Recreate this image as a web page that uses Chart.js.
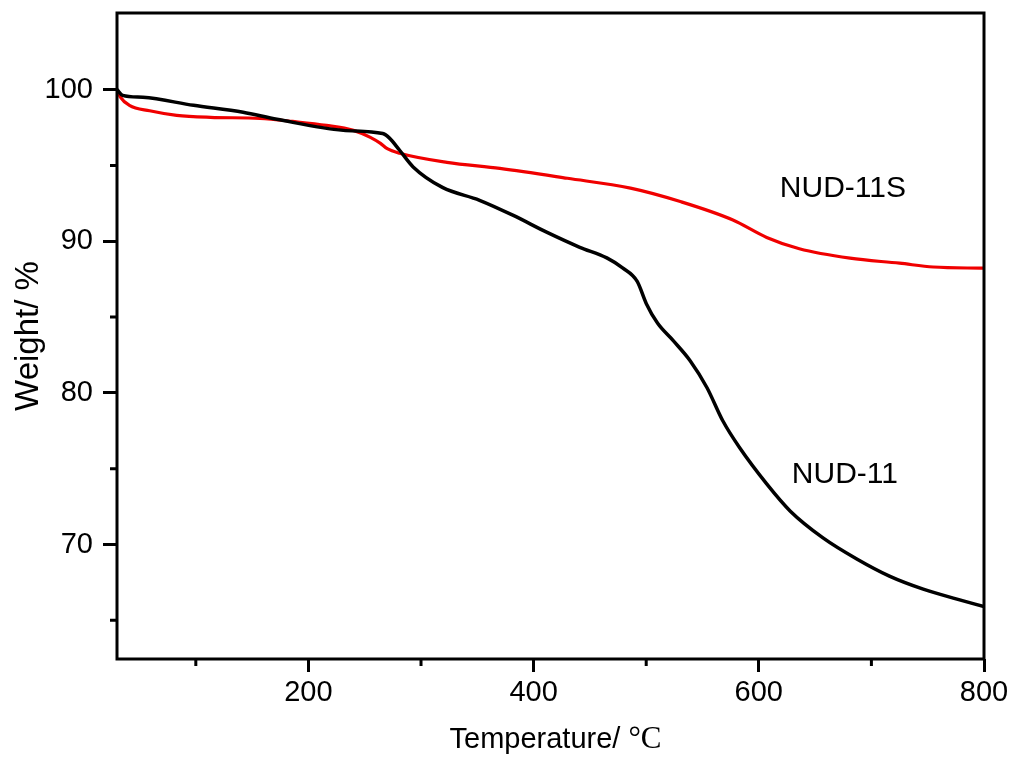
<!DOCTYPE html>
<html>
<head>
<meta charset="utf-8">
<script src="https://cdn.jsdelivr.net/npm/chart.js@4"></script>
<style>
  html, body { margin: 0; padding: 0; background: #ffffff; }
  #wrap { width: 1012px; height: 758px; }
</style>
</head>
<body>
<div id="wrap"><canvas id="tga" width="1012" height="758"></canvas></div>
<script>
// NUD-11 (black)
const tempNUD11 = [30, 35, 53, 98, 142, 172, 231, 266, 272, 281, 293, 319, 352, 382, 412, 441, 465, 479, 492, 500, 510, 524, 539, 554, 568, 583, 607, 628, 657, 687, 716, 746, 776, 800];
const weightNUD11 = [100, 99.62, 99.49, 98.96, 98.5, 98.04, 97.31, 97.1, 96.8, 96.0, 94.9, 93.55, 92.7, 91.7, 90.58, 89.6, 88.9, 88.24, 87.35, 85.9, 84.6, 83.44, 82.12, 80.34, 78.16, 76.38, 74.0, 72.2, 70.44, 69.05, 67.92, 67.06, 66.4, 65.9];

// NUD-11S (red)
const tempNUD11S = [30, 33, 41, 59, 83, 113, 157, 186, 216, 240, 255, 264, 270, 281, 323, 370, 430, 486, 531, 577, 607, 636, 681, 725, 755, 800];
const weightNUD11S = [100, 99.5, 98.96, 98.6, 98.3, 98.17, 98.1, 97.9, 97.64, 97.31, 96.85, 96.45, 96.1, 95.8, 95.2, 94.8, 94.15, 93.5, 92.6, 91.4, 90.25, 89.5, 88.88, 88.55, 88.3, 88.22];

const xMajorTicks = [200, 400, 600, 800];
const xMinorTicks = [100, 300, 500, 700];
const yMajorTicks = [70, 80, 90, 100];
const yMinorTicks = [65, 75, 85, 95];

const curveLabels = [
  { text: 'NUD-11S', x: 618.7, y: 92.9 },
  { text: 'NUD-11', x: 629.3, y: 74.07 }
];

const sans = "'Liberation Sans', Arial, sans-serif";

function toPoints(xs, ys) {
  return xs.map((x, i) => ({ x: x, y: ys[i] }));
}

// frame, minor ticks, curve labels and the x title (sans + serif degree sign)
const extrasPlugin = {
  id: 'extras',
  afterDatasetsDraw(chart) {
    const ctx = chart.ctx;
    const area = chart.chartArea;
    const xs = chart.scales.x;
    const ys = chart.scales.y;
    ctx.save();
    ctx.strokeStyle = '#000';
    ctx.lineWidth = 3;
    ctx.strokeRect(area.left, area.top, area.right - area.left, area.bottom - area.top);

    ctx.beginPath();
    xMinorTicks.forEach((v) => {
      const px = xs.getPixelForValue(v);
      ctx.moveTo(px, area.bottom);
      ctx.lineTo(px, area.bottom + 7);
    });
    yMinorTicks.forEach((v) => {
      const py = ys.getPixelForValue(v);
      ctx.moveTo(area.left, py);
      ctx.lineTo(area.left - 7, py);
    });
    ctx.stroke();

    ctx.fillStyle = '#000';
    ctx.textBaseline = 'alphabetic';
    ctx.textAlign = 'left';
    ctx.font = '30px ' + sans;
    curveLabels.forEach((l) => {
      ctx.fillText(l.text, xs.getPixelForValue(l.x), ys.getPixelForValue(l.y));
    });

    // x axis title
    const part1 = 'Temperature/ ';
    const part2 = '\u00B0C';
    ctx.font = '29px ' + sans;
    const w1 = ctx.measureText(part1).width;
    ctx.font = '31px "Liberation Serif", "Times New Roman", serif';
    const w2 = ctx.measureText(part2).width;
    const cx = (area.left + area.right) / 2 + 5;
    const startX = cx - (w1 + w2) / 2;
    const baseY = 748;
    ctx.font = '29px ' + sans;
    ctx.fillText(part1, startX, baseY);
    ctx.font = '31px "Liberation Serif", "Times New Roman", serif';
    ctx.fillText(part2, startX + w1, baseY);
    ctx.restore();
  }
};

new Chart(document.getElementById('tga'), {
  type: 'line',
  data: {
    datasets: [
      {
        label: 'NUD-11',
        data: toPoints(tempNUD11, weightNUD11),
        borderColor: '#000000',
        borderWidth: 3.5,
        pointRadius: 0,
        tension: 0.4,
        cubicInterpolationMode: 'monotone',
        fill: false
      },
      {
        label: 'NUD-11S',
        data: toPoints(tempNUD11S, weightNUD11S),
        borderColor: '#f00000',
        borderWidth: 3.2,
        pointRadius: 0,
        tension: 0.4,
        cubicInterpolationMode: 'monotone',
        fill: false
      }
    ]
  },
  options: {
    responsive: false,
    animation: false,
    events: [],
    layout: { padding: { left: 0, right: 28, top: 13, bottom: 0 } },
    plugins: {
      legend: { display: false },
      tooltip: { enabled: false },
      title: { display: false }
    },
    scales: {
      x: {
        type: 'linear',
        min: 30,
        max: 800,
        afterBuildTicks: (axis) => { axis.ticks = xMajorTicks.map((v) => ({ value: v })); },
        afterFit: (axis) => { axis.height = 99; axis.paddingLeft = 0; axis.paddingRight = 0; },
        border: { display: false },
        grid: { drawOnChartArea: false, drawTicks: true, tickLength: 13, color: '#000', lineWidth: 3 },
        ticks: {
          color: '#000',
          padding: 4,
          maxRotation: 0,
          autoSkip: false,
          font: { family: sans, size: 29 }
        },
        title: { display: false }
      },
      y: {
        type: 'linear',
        min: 62.45,
        max: 105.05,
        afterBuildTicks: (axis) => { axis.ticks = yMajorTicks.map((v) => ({ value: v })); },
        afterFit: (axis) => { axis.width = 117; axis.paddingTop = 0; axis.paddingBottom = 0; },
        border: { display: false },
        grid: { drawOnChartArea: false, drawTicks: true, tickLength: 14, color: '#000', lineWidth: 3 },
        ticks: {
          color: '#000',
          padding: 10,
          autoSkip: false,
          font: { family: sans, size: 29 }
        },
        title: {
          display: true,
          text: 'Weight/ %',
          color: '#000',
          padding: { top: 9, bottom: 0 },
          font: { family: sans, size: 33 }
        }
      }
    }
  },
  plugins: [extrasPlugin]
});
</script>
</body>
</html>
